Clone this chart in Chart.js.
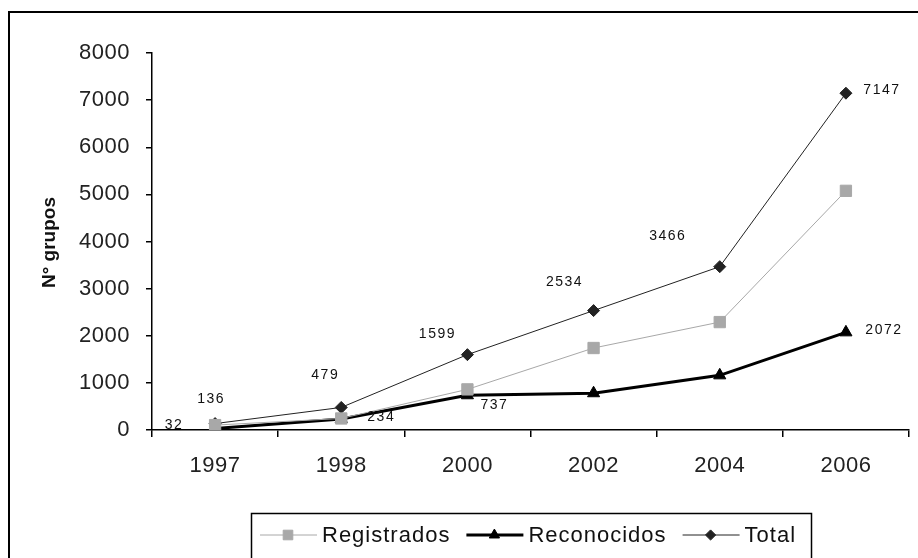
<!DOCTYPE html>
<html>
<head>
<meta charset="utf-8">
<script src="https://cdn.jsdelivr.net/npm/chart.js@4/dist/chart.umd.min.js"></script>
<style>
  html, body { margin: 0; padding: 0; background: #fff; }
  #wrap { width: 918px; height: 558px; position: relative; }
</style>
</head>
<body>
<div id="wrap"><canvas id="c" width="918" height="558"></canvas></div>
<script>
// ---- data ----
const categories = ['1997', '1998', '2000', '2002', '2004', '2006'];
const registrados = [104, 245, 862, 1740, 2290, 5075];
const reconocidos = [32, 234, 737, 780, 1160, 2072];
const total = [136, 479, 1599, 2534, 3466, 7147];
const yTicks = [0, 1000, 2000, 3000, 4000, 5000, 6000, 7000, 8000];
// which points carry a value label
const totalLabelIdx = [0, 1, 2, 3, 4, 5];
const reconocidosLabelIdx = [0, 1, 2, 5];

// ---- label placement (style) ----
const totalLabelOffsets = [[-4, -24], [-16, -32], [-30, -21], [-29, -28], [-52, -31], [36, -3]];
const reconLabelOffsets = { 0: [-41, -3], 1: [40, -2], 2: [27, 10], 5: [38, -2] };

const FONT = '"Liberation Sans", Arial, sans-serif';

const decorPlugin = {
  id: 'decor',
  beforeLayout(chart) { chart.ctx.letterSpacing = '0.5px'; },
  beforeDraw(chart) {
    const ctx = chart.ctx;
    ctx.letterSpacing = '0.5px';
    ctx.save();
    ctx.fillStyle = '#fff';
    ctx.fillRect(0, 0, chart.width, chart.height);
    ctx.strokeStyle = '#000';
    ctx.lineWidth = 2;
    ctx.strokeRect(9, 12, 1000, 1000);
    ctx.restore();
  },
  afterDraw(chart) {
    const ctx = chart.ctx;
    const y = chart.scales.y;
    // y-axis title
    ctx.save();
    ctx.letterSpacing = '0px';
    ctx.translate(50, (y.top + y.bottom) / 2 + 1);
    ctx.rotate(-Math.PI / 2);
    ctx.font = 'bold 19px ' + FONT;
    ctx.fillStyle = '#111';
    ctx.textAlign = 'center';
    ctx.textBaseline = 'middle';
    ctx.fillText('N° grupos', 0, 0);
    ctx.restore();

    // value labels
    ctx.save();
    ctx.font = '14px ' + FONT;
    ctx.letterSpacing = '1.5px';
    ctx.fillStyle = '#111';
    ctx.textAlign = 'center';
    ctx.textBaseline = 'middle';
    const mTot = chart.getDatasetMeta(2).data;
    totalLabelIdx.forEach(i => {
      const p = mTot[i], o = totalLabelOffsets[i];
      ctx.fillText(String(total[i]), p.x + o[0], p.y + o[1]);
    });
    const mRec = chart.getDatasetMeta(1).data;
    reconocidosLabelIdx.forEach(i => {
      const p = mRec[i], o = reconLabelOffsets[i];
      ctx.fillText(String(reconocidos[i]), p.x + o[0], p.y + o[1]);
    });
    ctx.restore();

    // legend
    ctx.save();
    ctx.strokeStyle = '#000';
    ctx.lineWidth = 1.5;
    ctx.strokeRect(251.5, 513.5, 560, 80);
    ctx.font = '22px ' + FONT;
    ctx.letterSpacing = '1px';
    ctx.textBaseline = 'middle';
    ctx.textAlign = 'left';
    let lx = 260;
    const ly = 535;
    chart.data.datasets.forEach(ds => {
      ctx.strokeStyle = ds.borderColor;
      ctx.lineWidth = ds.borderWidth;
      ctx.beginPath();
      ctx.moveTo(lx, ly);
      ctx.lineTo(lx + 57, ly);
      ctx.stroke();
      ctx.fillStyle = ds.pointBackgroundColor;
      ctx.strokeStyle = ds.pointBorderColor;
      ctx.lineWidth = 1;
      Chart.helpers.drawPoint(ctx, {
        pointStyle: ds.pointStyle, radius: ds.pointRadius * 0.85, borderWidth: 1, rotation: 0
      }, lx + 28, ly);
      lx += 62;
      ctx.fillStyle = '#111';
      ctx.fillText(ds.label, lx, ly + 1);
      lx += ctx.measureText(ds.label).width + 16;
    });
    ctx.restore();
  }
};

new Chart(document.getElementById('c'), {
  type: 'line',
  data: {
    labels: categories,
    datasets: [
      {
        label: 'Registrados', data: registrados,
        borderColor: '#a8a8a8', borderWidth: 1,
        pointStyle: 'rect', pointRadius: 8,
        pointBackgroundColor: '#a8a8a8', pointBorderColor: '#a8a8a8', pointBorderWidth: 1,
        tension: 0
      },
      {
        label: 'Reconocidos', data: reconocidos,
        borderColor: '#000', borderWidth: 3,
        pointStyle: 'triangle', pointRadius: 7,
        pointBackgroundColor: '#000', pointBorderColor: '#000', pointBorderWidth: 1,
        tension: 0
      },
      {
        label: 'Total', data: total,
        borderColor: '#222', borderWidth: 1,
        pointStyle: 'rectRot', pointRadius: 6,
        pointBackgroundColor: '#222', pointBorderColor: '#222', pointBorderWidth: 1,
        tension: 0
      }
    ]
  },
  options: {
    responsive: false,
    animation: false,
    layout: { padding: { left: 0, right: 0, top: 53, bottom: 0 } },
    plugins: { legend: { display: false }, tooltip: { enabled: false } },
    scales: {
      x: {
        type: 'category',
        offset: true,
        grid: { offset: true, drawOnChartArea: false, tickLength: 7, color: '#000', lineWidth: 1.5 },
        border: { color: '#000', width: 1.5 },
        ticks: { color: '#222', font: { family: FONT, size: 22 }, padding: 16, maxRotation: 0 },
        afterFit(s) { s.height = 128; }
      },
      y: {
        min: 0, max: 8000,
        afterBuildTicks(s) { s.ticks = yTicks.map(v => ({ value: v })); },
        grid: { drawOnChartArea: false, tickLength: 6, color: '#000', lineWidth: 1.5 },
        border: { color: '#000', width: 1.5 },
        ticks: { color: '#222', font: { family: FONT, size: 22 }, padding: 16,
                 callback: (v) => String(v) },
        afterFit(s) { s.width = 152; }
      }
    }
  },
  plugins: [decorPlugin]
});
</script>
</body>
</html>
